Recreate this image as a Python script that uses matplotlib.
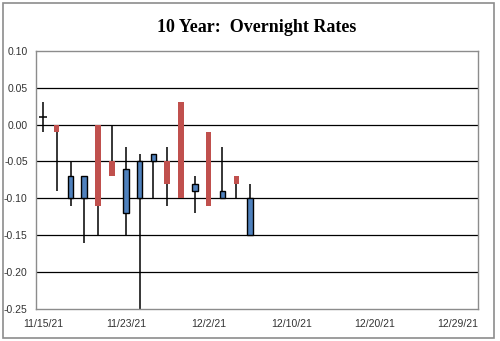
import numpy as np
import matplotlib
matplotlib.use("Agg")
import matplotlib.pyplot as plt
from matplotlib.patches import Rectangle

# trading days shown (category axis, business days only)
dates = ["11/15/21", "11/16/21", "11/17/21", "11/18/21", "11/19/21", "11/22/21",
         "11/23/21", "11/24/21", "11/26/21", "11/29/21", "11/30/21", "12/1/21",
         "12/2/21", "12/3/21", "12/6/21", "12/7/21"]
opens = [0.01, 0.00, -0.10, -0.10, 0.00, -0.05, -0.12, -0.10,
         -0.05, -0.05, 0.03, -0.09, -0.01, -0.10, -0.07, -0.15]
highs = [0.03, 0.00, -0.05, -0.07, 0.00, 0.00, -0.03, -0.04,
         -0.04, -0.03, 0.03, -0.07, -0.01, -0.03, -0.07, -0.08]
lows = [-0.01, -0.09, -0.11, -0.16, -0.15, -0.07, -0.15, -0.25,
        -0.10, -0.11, -0.10, -0.12, -0.11, -0.10, -0.10, -0.15]
closes = [0.01, -0.01, -0.07, -0.07, -0.11, -0.07, -0.06, -0.05,
          -0.04, -0.08, -0.10, -0.08, -0.11, -0.09, -0.08, -0.10]

n_slots = 32                      # axis runs to 12/30/21
tick_pos = [0, 6, 12, 18, 24, 30]
tick_labels = ["11/15/21", "11/23/21", "12/2/21", "12/10/21", "12/20/21", "12/29/21"]
y_ticks = [-0.25, -0.20, -0.15, -0.10, -0.05, 0.00, 0.05, 0.10]

UP = "#4f81bd"
DOWN = "#c0504d"

fig = plt.figure(figsize=(5, 3.41), dpi=100)
fig.patches.append(Rectangle((3 / 500, 3 / 341), 491 / 500, 335 / 341,
                             transform=fig.transFigure, fill=False,
                             edgecolor="#8c8c8c", lw=1.2))
ax = fig.add_axes([0.072, 0.094, 0.884, 0.757])

for y in y_ticks[1:-1]:
    ax.axhline(y, color="black", lw=0.9, zorder=1)

x = np.arange(len(dates))
o = np.array(opens)
c = np.array(closes)
ax.vlines(x, lows, highs, color="black", lw=1.1, zorder=2)
for i in range(len(x)):
    if o[i] == c[i]:
        ax.hlines(o[i], x[i] - 0.3, x[i] + 0.3, color="black", lw=1.1, zorder=3)
    elif c[i] > o[i]:
        ax.bar(x[i], c[i] - o[i], bottom=o[i], width=0.42, color=UP,
               edgecolor="black", linewidth=1.0, zorder=3)
    else:
        ax.bar(x[i], o[i] - c[i], bottom=c[i], width=0.4, color=DOWN,
               linewidth=0, zorder=3)

ax.set_xlim(-0.5, n_slots - 0.5)
ax.set_ylim(-0.25, 0.10)
ax.set_yticks(y_ticks)
ax.set_yticklabels([f"{v:.2f}" for v in y_ticks])
ax.set_xticks(tick_pos)
ax.set_xticklabels(tick_labels)
ax.tick_params(length=0, labelsize=7.5, colors="#333333")
ax.tick_params(axis="x", pad=7)
ax.tick_params(axis="y", pad=6)
for lab in ax.get_xticklabels() + ax.get_yticklabels():
    lab.set_family("Liberation Sans")
for s in ax.spines.values():
    s.set_color("#8c8c8c")
    s.set_linewidth(1.0)

fig.text(0.514, 0.918, "10 Year:  Overnight Rates", ha="center", va="center",
         fontsize=13, fontweight="bold", family="Liberation Serif")

fig.savefig("out.png", dpi=100)
